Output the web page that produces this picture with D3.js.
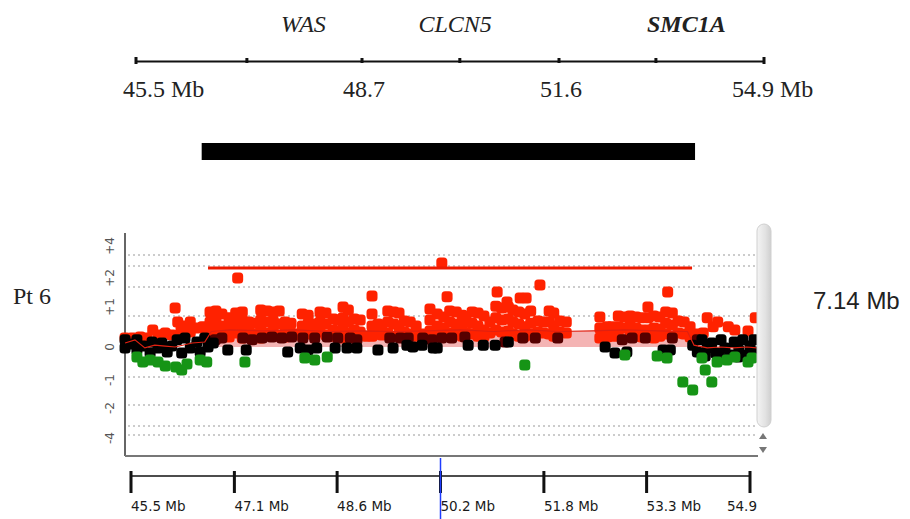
<!DOCTYPE html>
<html>
<head>
<meta charset="utf-8">
<script src="https://cdn.jsdelivr.net/npm/d3@7"></script>
<style>
    body { margin: 0; background: #fff; }
    .serif { font-family: "Liberation Serif", "Times New Roman", serif; fill: #222; }
    .grid line { stroke: #9a9a9a; stroke-width: 1.2; stroke-dasharray: 2, 3; }
    .ylab { font-family: "DejaVu Sans", sans-serif; font-size: 12px; fill: #555; }
    .xlab { font-family: "DejaVu Sans", Tahoma, sans-serif; font-size: 13.5px; fill: #1a1a1a; }
</style>
</head>
<body>
<div id="chart"></div>
<script>
// ---- data ----
// top ideogram axis (Mb)
var topTicks = [45.5, 47.07, 48.7, 50.14, 51.6, 53.16, 54.9];
var topLabels = ["45.5 Mb", "", "48.7", "", "51.6", "", "54.9 Mb"];
var genes = ["WAS", "CLCN5", "SMC1A"];
var genePos = [47.87, 50.07, 53.65];
var geneBold = [false, false, true];
var regionBar = [46.43, 53.79];

// plot axes
var bottomTicks = [45.5, 47.07, 48.63, 50.2, 51.77, 53.33, 54.9];
var bottomLabels = ["45.5 Mb", "47.1 Mb", "48.6 Mb", "50.2 Mb", "51.8 Mb", "53.3 Mb", "54.9"];
var gridValues = [4, 3, 2, 1, -1, -2, -3, -4];
var yTickValues = [4, 2, 1, 0, -1, -2, -4];
var yTickLabels = ["+4", "+2", "+1", "0", "-1", "-2", "-4"];
var cursorPos = 50.2;

var patient = "Pt 6";
var sizeLabel = "7.14 Mb";

// aberrant segment (Mb) and its marker level
var segment = [46.67, 54.02];
var segmentLevel = 2.9;

// moving average of the log ratio [Mb, value]
var movingAvg = [[45.41,0.13],[45.56,0.23],[45.71,-0.03],[45.86,0.06],[46.02,0.03],[46.17,0],[46.43,0.13],[46.62,0.16],
    [46.72,0.5],[47.0,0.55],[47.5,0.52],[48.0,0.55],[48.5,0.5],[49.0,0.52],[49.5,0.5],[50.0,0.52],[50.5,0.55],
    [51.0,0.5],[51.5,0.55],[52.0,0.5],[52.5,0.52],[53.0,0.55],[53.5,0.52],[53.95,0.5],
    [54.05,0.06],[54.25,-0.03],[54.45,0],[54.65,-0.03],[54.85,0],[55.0,-0.03]];

// probes [Mb, log ratio]
var redProbes = [
    [45.41,0.29],[45.52,0.29],[45.64,0.32],[45.74,0.29],[45.83,0.55],[45.91,0.39],[46.02,0.45],[46.12,0.39],
    [46.17,1.28],[46.21,0.81],[46.26,0.55],[46.30,0.68],[46.40,0.81],[46.40,0.48],[46.50,0.61],[46.59,0.65],[46.64,0.39],
    [46.70,1.14],[46.70,0.81],[46.70,0.48],[46.70,0.32],[46.79,1.17],[46.79,0.87],[46.79,0.55],[46.79,0.29],
    [46.88,1.07],[46.88,0.68],[46.88,0.35],[46.99,0.94],[46.99,0.61],[46.99,0.32],
    [47.09,1.10],[47.09,0.77],[47.09,0.45],[47.19,1.14],[47.19,0.87],[47.19,0.55],[47.19,0.29],
    [47.29,0.81],[47.29,0.48],[47.29,0.32],[47.38,0.77],[47.38,0.42],
    [47.47,1.21],[47.47,0.87],[47.47,0.55],[47.47,0.29],[47.57,1.17],[47.57,0.81],[47.57,0.45],
    [47.66,1.14],[47.66,0.84],[47.66,0.52],[47.75,1.17],[47.75,0.74],[47.75,0.35],
    [47.84,0.81],[47.84,0.48],[47.84,0.32],[47.93,0.77],[47.93,0.45],[48.02,0.42],
    [48.10,1.07],[48.10,0.68],[48.10,0.35],[48.19,1.03],[48.19,0.74],[48.19,0.42],[48.28,0.74],[48.28,0.42],
    [48.37,1.14],[48.37,0.81],[48.37,0.48],[48.46,1.10],[48.46,0.74],[48.46,0.39],
    [48.57,0.90],[48.57,0.55],[48.57,0.35],[48.64,0.87],[48.64,0.45],
    [48.72,1.31],[48.72,0.94],[48.72,0.61],[48.72,0.29],[48.80,1.21],[48.80,0.81],[48.80,0.45],
    [48.89,0.90],[48.89,0.55],[48.89,0.35],[48.98,0.87],[48.98,0.48],[49.07,0.35],
    [49.16,1.07],[49.16,0.68],[49.16,0.35],[49.25,0.74],[49.25,0.42],[49.31,0.71],[49.31,0.39],
    [49.40,1.17],[49.40,0.81],[49.40,0.45],[49.49,1.14],[49.49,0.74],[49.49,0.35],
    [49.57,1.10],[49.57,0.65],[49.65,0.84],[49.65,0.48],[49.65,0.32],[49.74,0.81],[49.74,0.42],[49.83,0.68],[49.83,0.35],[49.92,0.42],
    [50.04,1.24],[50.04,0.87],[50.04,0.52],[50.15,1.07],[50.15,0.68],[50.15,0.35],[50.25,0.97],[50.25,0.61],[50.25,0.35],
    [50.34,1.17],[50.34,0.81],[50.34,0.45],[50.44,1.14],[50.44,0.74],[50.44,0.42],
    [50.53,1.03],[50.53,0.61],[50.53,0.35],[50.59,0.84],[50.59,0.45],[50.68,1.14],[50.68,0.77],[50.68,0.42],
    [50.77,1.10],[50.77,0.68],[50.77,0.35],[50.86,1.00],[50.86,0.55],[50.86,0.35],[50.95,0.81],[50.95,0.45],
    [51.04,1.34],[51.04,0.94],[51.04,0.55],[51.13,1.28],[51.13,0.87],[51.13,0.48],
    [51.23,1.31],[51.23,0.90],[51.23,0.52],[51.30,1.21],[51.30,0.81],[51.30,0.42],
    [51.39,1.14],[51.39,0.74],[51.39,0.35],[51.48,1.07],[51.48,0.65],[51.48,0.35],[51.57,1.17],[51.57,0.77],[51.57,0.42],
    [51.68,0.84],[51.68,0.48],[51.76,0.81],[51.76,0.45],[51.85,1.17],[51.85,0.81],[51.85,0.42],
    [51.92,1.10],[51.92,0.68],[51.92,0.35],[52.01,0.84],[52.01,0.48],[52.11,0.81],[52.11,0.45],
    [52.62,0.97],[52.62,0.61],[52.62,0.29],[52.73,0.65],[52.73,0.32],[52.80,0.65],[52.80,0.35],
    [52.90,1.00],[52.90,0.65],[52.90,0.35],[52.99,0.97],[52.99,0.61],
    [53.08,1.00],[53.08,0.68],[53.08,0.35],[53.17,0.97],[53.17,0.61],[53.17,0.35],[53.26,0.94],[53.26,0.55],[53.26,0.32],
    [53.35,1.31],[53.35,0.94],[53.35,0.55],[53.44,1.00],[53.44,0.61],[53.44,0.29],[53.53,0.97],[53.53,0.58],[53.53,0.35],
    [53.62,1.14],[53.62,0.77],[53.62,0.42],[53.72,1.10],[53.72,0.71],[53.72,0.35],[53.81,0.84],[53.81,0.45],
    [53.90,0.81],[53.90,0.42],[53.99,0.65],[53.99,0.32],[54.10,0.42],[54.19,0.45],
    [54.25,0.94],[54.34,0.65],[54.41,0.81],[54.57,0.65],[54.67,0.55],[54.87,0.52],[54.98,0.94],
    [47.12,2.43],[49.16,1.69],[50.22,3.27],[51.71,2.10],[51.06,1.83],[50.30,1.66],
    [51.41,1.62],[51.50,1.62],[51.21,1.48],[53.65,1.83]
];
var maroonProbes = [
    [46.78,0.23],[46.88,0.29],[47.20,0.29],[47.34,0.23],[47.49,0.29],[47.64,0.32],[47.79,0.29],[47.94,0.32],
    [48.11,0.29],[48.29,0.29],[48.48,0.32],[48.64,0.29],[48.83,0.29],[48.93,0.23],[49.43,0.29],[49.59,0.29],
    [49.71,0.29],[49.93,0.29],[50.07,0.23],[50.22,0.29],[50.37,0.29],[50.57,0.32],[51.18,0.16],[51.45,0.29],
    [51.64,0.29],[51.98,0.29],[52.96,0.23],[53.11,0.29],[53.31,0.29],[53.72,0.29],[54.10,0.23]
];
var blackProbes = [
    [45.41,0.23],[45.41,-0.03],[45.50,0.10],[45.59,0.23],[45.59,-0.10],[45.68,0.03],[45.79,-0.20],[45.82,0.16],
    [45.91,-0.03],[45.97,0.13],[46.05,-0.17],[46.12,0.03],[46.20,0.23],[46.27,-0.20],[46.32,0.29],[46.40,-0.03],
    [46.50,0.16],[46.55,-0.17],[46.62,0.29],[46.67,0],[46.75,0.13],[46.97,-0.10],[47.25,-0.10],
    [47.88,-0.17],[48.07,-0.03],[48.19,-0.10],[48.32,-0.03],[48.60,-0.03],[48.78,-0.03],[48.93,-0.03],
    [49.25,-0.10],[49.48,-0.03],[49.69,0.06],[49.78,0],[49.92,0.06],[50.09,-0.03],[50.15,-0.03],
    [50.62,0.06],[50.85,0.06],[51.03,0.06],[51.23,0.16],[52.70,0],[52.85,-0.20],[53.03,-0.17],[53.58,-0.10],[53.69,-0.10],
    [54.03,0.06],[54.10,-0.17],[54.17,0.23],[54.25,-0.03],[54.32,0.13],[54.38,-0.20],[54.46,0.23],[54.52,-0.03],
    [54.60,-0.27],[54.66,0.16],[54.73,-0.10],[54.79,0.23],[54.85,-0.27],[54.90,0.03],[54.96,0.23],[54.99,-0.17],
    [54.22,-0.30],[54.44,-0.33],[54.72,-0.33]
];
var greenProbes = [
    [45.59,-0.33],[45.68,-0.50],[45.79,-0.43],[45.91,-0.50],[46.02,-0.63],[46.18,-0.67],[46.27,-0.77],[46.35,-0.57],
    [46.55,-0.43],[46.65,-0.50],[47.23,-0.50],[48.14,-0.37],[48.29,-0.43],[48.48,-0.33],[51.48,-0.60],
    [53.00,-0.27],[53.49,-0.30],[53.64,-0.37],[53.88,-1.18],[54.03,-1.46],[54.22,-0.77],[54.32,-1.18],
    [54.17,-0.37],[54.40,-0.50],[54.55,-0.43],[54.67,-0.33],[54.87,-0.50],[54.93,-0.37]
];

var width = 910, height = 519;
var dot = 11;

var svg = d3.select("#chart")
    .append("svg")
    .attr("width", width)
    .attr("height", height);

svg.append("rect").attr("width", width).attr("height", height).attr("fill", "#fff");

var defs = svg.append("defs");
defs.append("filter")
    .attr("id", "soft")
    .append("feGaussianBlur")
    .attr("stdDeviation", 0.5);

// ---------- top ideogram ----------
var xTop = d3.scaleLinear()
    .domain([45.5, 48.7, 51.6, 54.9])
    .range([136, 362, 559, 764]);

svg.append("line")
    .attr("x1", xTop(45.5)).attr("x2", xTop(54.9))
    .attr("y1", 61.5).attr("y2", 61.5)
    .attr("stroke", "#111").attr("stroke-width", 2);

svg.selectAll(".ttick")
    .data(topTicks)
    .enter().append("rect")
    .attr("class", "ttick")
    .attr("x", function(d) { return xTop(d) - 1.5; })
    .attr("y", function(d, i) { return (i == 0 || i == topTicks.length - 1) ? 57 : 58; })
    .attr("width", 3)
    .attr("height", function(d, i) { return (i == 0 || i == topTicks.length - 1) ? 7 : 5; })
    .attr("fill", "#111");

svg.selectAll(".tlab")
    .data(topTicks)
    .enter().append("text")
    .attr("class", "tlab serif")
    .attr("x", function(d, i) {
        if (i == 0) return xTop(d) - 13;
        if (i == topTicks.length - 1) return xTop(d) - 32;
        return xTop(d) + 2;
    })
    .attr("y", 97)
    .attr("text-anchor", function(d, i) { return (i == 0 || i == topTicks.length - 1) ? "start" : "middle"; })
    .style("font-size", "24px")
    .text(function(d, i) { return topLabels[i]; });

svg.selectAll(".gene")
    .data(genes)
    .enter().append("text")
    .attr("class", "gene serif")
    .attr("x", function(d, i) { return xTop(genePos[i]); })
    .attr("y", 32)
    .attr("text-anchor", "middle")
    .style("font-size", "24px")
    .style("font-style", "italic")
    .style("font-weight", function(d, i) { return geneBold[i] ? "bold" : "normal"; })
    .text(function(d) { return d; });

svg.append("rect")
    .attr("x", xTop(regionBar[0]))
    .attr("y", 143)
    .attr("width", xTop(regionBar[1]) - xTop(regionBar[0]))
    .attr("height", 17)
    .attr("fill", "#000");

// ---------- probe plot ----------
var x = d3.scaleLinear()
    .domain([45.5, 54.9])
    .range([131, 750]);

// the viewer stretches the scale around zero
var y = d3.scaleLinear()
    .domain([-4, -3, -2, -1, 0, 1, 2, 3, 4])
    .range([435, 426, 405, 377, 347, 316, 287, 266, 255]);

var plotLeft = 125, plotRight = 757, plotTop = 233, plotBottom = 456;

// gridlines
svg.append("g")
    .attr("class", "grid")
    .selectAll("line")
    .data(gridValues)
    .enter().append("line")
    .attr("x1", plotLeft + 3).attr("x2", plotRight)
    .attr("y1", function(d) { return y(d); })
    .attr("y2", function(d) { return y(d); });

// y labels, rotated
svg.selectAll(".ylab")
    .data(yTickValues)
    .enter().append("text")
    .attr("class", "ylab")
    .attr("text-anchor", "middle")
    .attr("transform", function(d) {
        var off = d > 0 ? -9 : (d < 0 ? 3 : 0);
        return "translate(114," + (y(d) + off) + ") rotate(-90)";
    })
    .text(function(d, i) { return yTickLabels[i]; });

// frame
svg.append("line")
    .attr("x1", plotLeft).attr("x2", plotLeft)
    .attr("y1", plotTop).attr("y2", plotBottom)
    .attr("stroke", "#666").attr("stroke-width", 2);
svg.append("line")
    .attr("x1", plotLeft).attr("x2", plotRight + 1)
    .attr("y1", plotBottom).attr("y2", plotBottom)
    .attr("stroke", "#777").attr("stroke-width", 2);

// shaded band under the segment mean
var bandData = movingAvg.filter(function(d) { return d[0] >= segment[0] && d[0] <= segment[1]; });
svg.append("path")
    .datum(bandData)
    .attr("fill", "#f4b4b4")
    .attr("d", d3.area()
        .x(function(d) { return x(d[0]); })
        .y0(y(0))
        .y1(function(d) { return y(d[1]); })
    );

var probes = svg.append("g").attr("filter", "url(#soft)");

function drawProbes(data, color) {
    probes.append("g")
        .selectAll("rect")
        .data(data)
        .enter().append("rect")
        .attr("x", function(d) { return x(d[0]) - dot / 2; })
        .attr("y", function(d) { return y(d[1]) - dot / 2; })
        .attr("width", dot)
        .attr("height", dot)
        .attr("rx", 3.5)
        .attr("fill", color);
}

drawProbes(redProbes, "#ff2200");
drawProbes(maroonProbes, "#560404");
drawProbes(blackProbes, "#050505");
drawProbes(greenProbes, "#149414");

// moving average
svg.append("path")
    .datum(movingAvg)
    .attr("fill", "none")
    .attr("stroke", "#e02010")
    .attr("stroke-width", 1.2)
    .attr("d", d3.line()
        .x(function(d) { return x(d[0]); })
        .y(function(d) { return y(d[1]); })
    );

// segment marker
svg.append("line")
    .attr("x1", x(segment[0])).attr("x2", x(segment[1]))
    .attr("y1", y(segmentLevel)).attr("y2", y(segmentLevel))
    .attr("stroke", "#ee1a00").attr("stroke-width", 3);

// scroll bar
var grad = defs.append("linearGradient")
    .attr("id", "sb").attr("x1", 0).attr("x2", 1);
grad.append("stop").attr("offset", "0%").attr("stop-color", "#f4f4f4");
grad.append("stop").attr("offset", "60%").attr("stop-color", "#e2e2e2");
grad.append("stop").attr("offset", "100%").attr("stop-color", "#cfcfcf");
svg.append("rect")
    .attr("x", 757).attr("y", 224)
    .attr("width", 14).attr("height", 203)
    .attr("rx", 7)
    .attr("fill", "url(#sb)")
    .attr("stroke", "#d0d0d0");
svg.append("path")
    .attr("d", "M 759,439 l 4,-6 4,6 z")
    .attr("fill", "#777");
svg.append("path")
    .attr("d", "M 759,447 l 4,6 4,-6 z")
    .attr("fill", "#777");

// side labels
svg.append("text")
    .attr("class", "serif")
    .attr("x", 13).attr("y", 304)
    .style("font-size", "24px")
    .text(patient);
svg.append("text")
    .attr("x", 813).attr("y", 309)
    .style("font-family", "'Liberation Sans', Arial, sans-serif")
    .style("font-size", "24px")
    .attr("fill", "#222")
    .text(sizeLabel);

// ---------- bottom axis ----------
svg.append("line")
    .attr("x1", x(45.5)).attr("x2", x(54.9))
    .attr("y1", 476).attr("y2", 476)
    .attr("stroke", "#111").attr("stroke-width", 1.5);

svg.selectAll(".btick")
    .data(bottomTicks)
    .enter().append("rect")
    .attr("class", "btick")
    .attr("x", function(d) { return x(d) - 1.5; })
    .attr("y", 471)
    .attr("width", 3)
    .attr("height", 22)
    .attr("fill", "#111");

svg.selectAll(".xlab")
    .data(bottomTicks)
    .enter().append("text")
    .attr("class", "xlab")
    .attr("x", function(d, i) { return i == bottomTicks.length - 1 ? x(d) + 7 : x(d); })
    .attr("y", 511)
    .attr("text-anchor", function(d, i) { return i == bottomTicks.length - 1 ? "end" : "start"; })
    .text(function(d, i) { return bottomLabels[i]; });

// position cursor
svg.append("line")
    .attr("x1", x(cursorPos)).attr("x2", x(cursorPos))
    .attr("y1", 458).attr("y2", 519)
    .attr("stroke", "#1f3cff").attr("stroke-width", 1.5);
</script>
</body>
</html>
